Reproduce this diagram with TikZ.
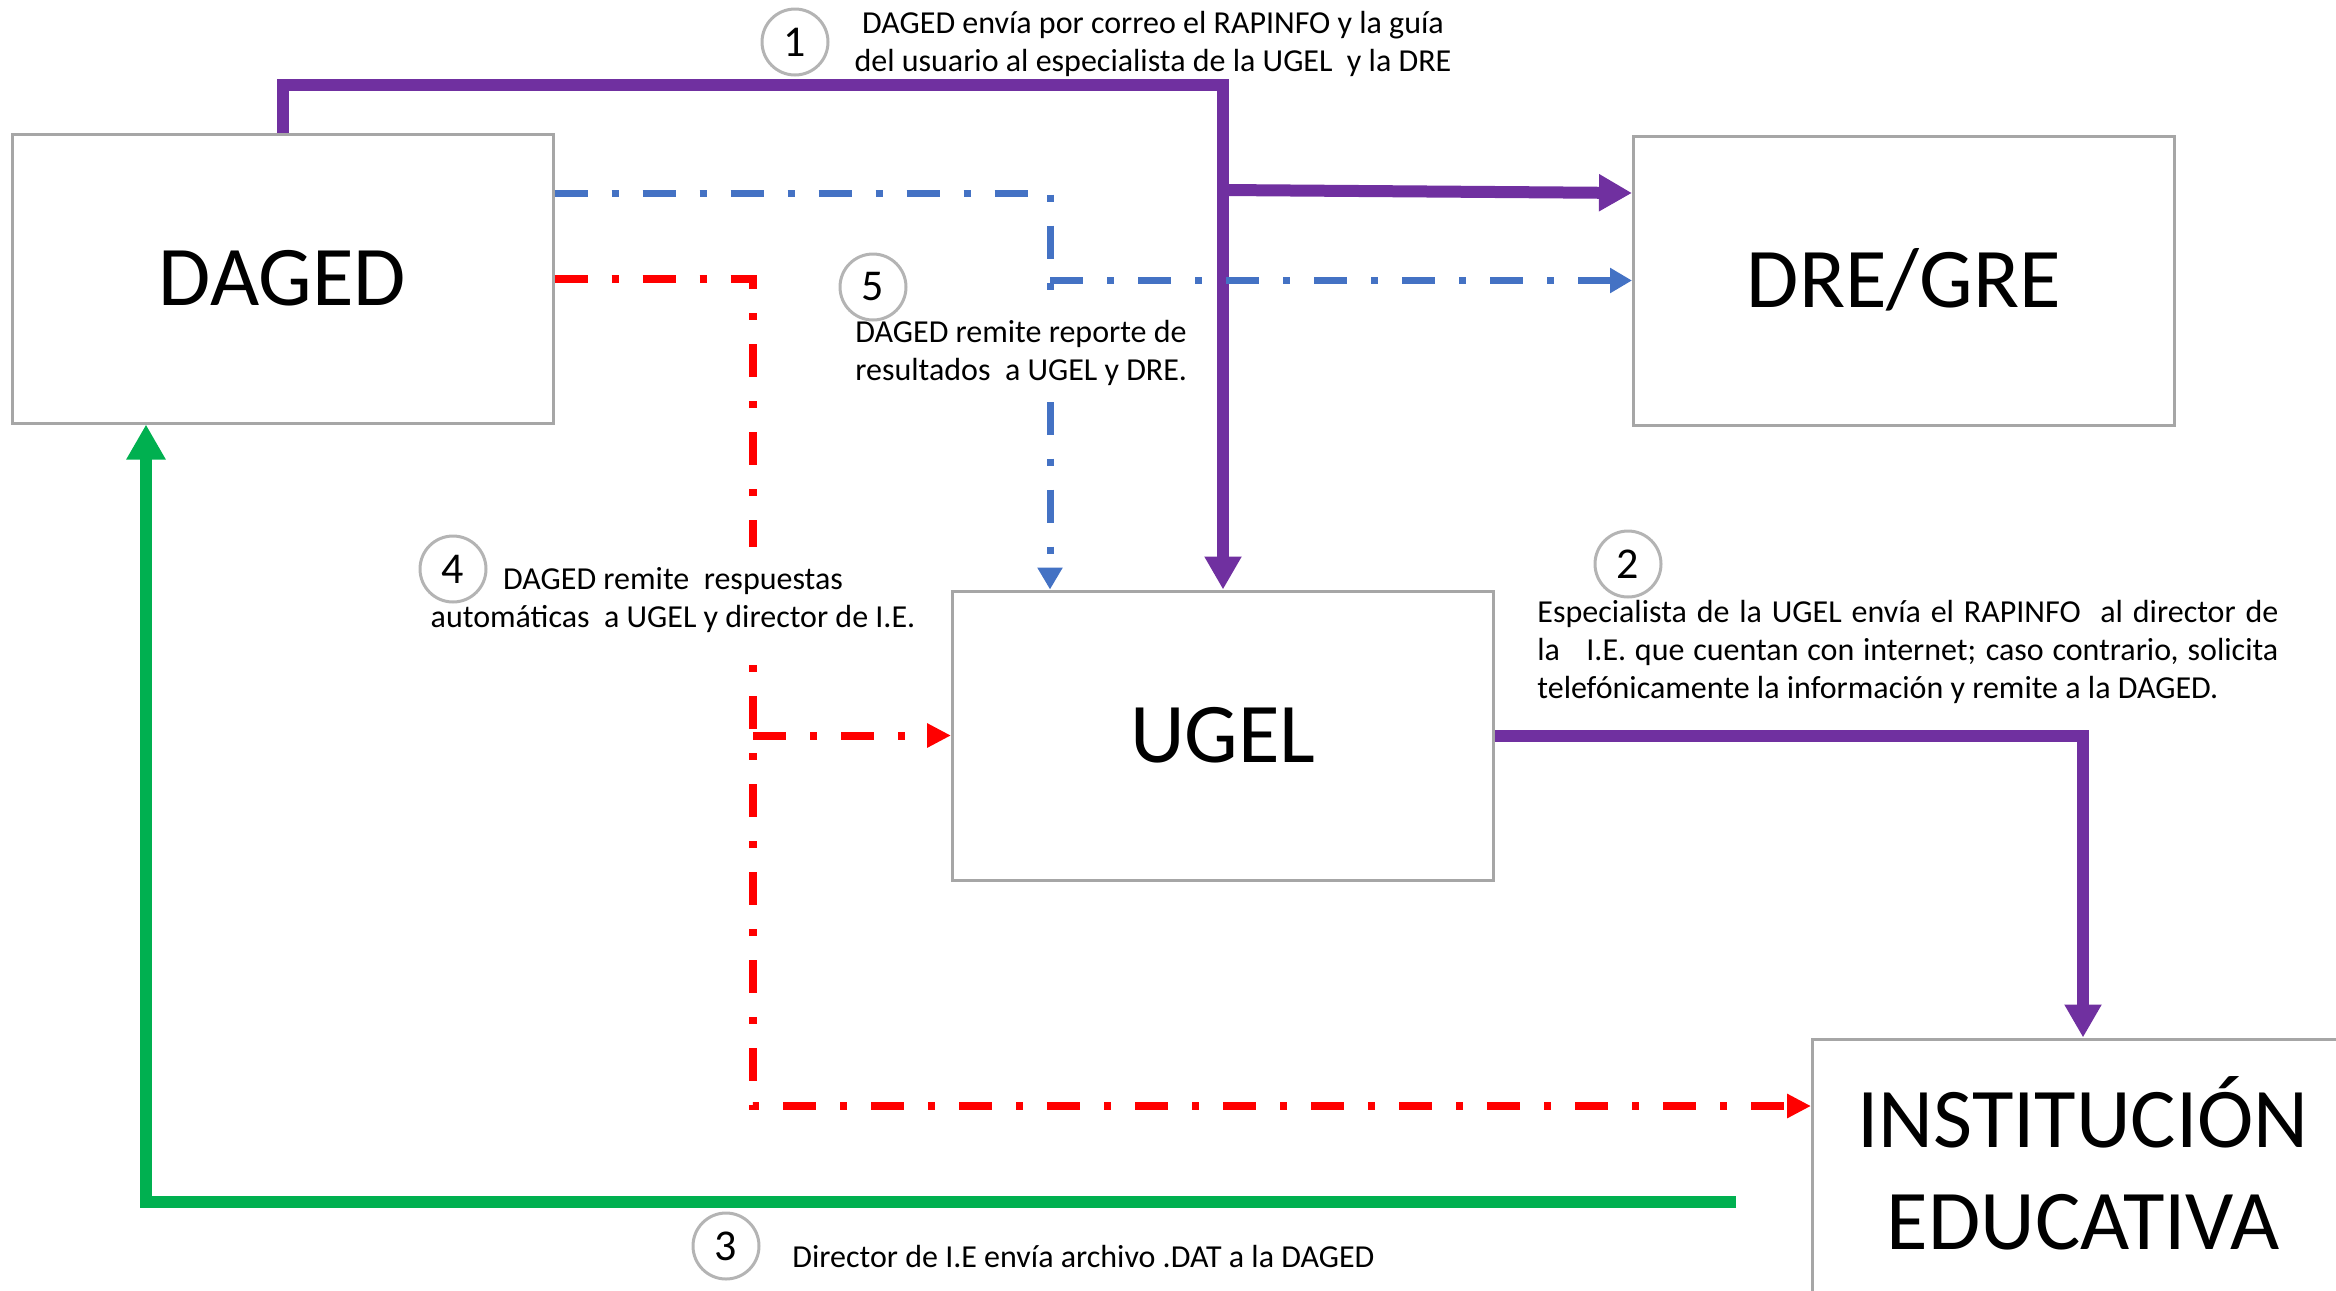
\documentclass[tikz,border=0pt]{standalone}
\usepackage{fontspec}
\setmainfont{Carlito}
\usetikzlibrary{arrows.meta}
\definecolor{cpurple}{HTML}{7030A0}
\definecolor{cgreen}{HTML}{00B050}
\definecolor{cred}{HTML}{FF0000}
\definecolor{cblue}{HTML}{4472C4}
\definecolor{cbox}{HTML}{A6A6A6}
\definecolor{ccirc}{HTML}{B4B4B4}
\begin{document}
\begin{tikzpicture}[x=0.5pt,y=-0.5pt,
  bigbox/.style={draw=cbox,line width=1.5pt,minimum width=270.5pt,minimum height=144.5pt,inner sep=0pt,
    font=\fontsize{42.5}{51}\selectfont,text height=27.4pt,text depth=0pt},
  bigtxt/.style={font=\fontsize{42.5}{51}\selectfont,inner sep=0pt,align=center},
  numcirc/.style={circle,draw=ccirc,line width=1.5pt,fill=white,minimum size=33pt,inner sep=0pt,
    font=\fontsize{22}{26}\selectfont},
  lbl/.style={font=\fontsize{16}{19}\selectfont,inner sep=0pt},
  dashdot/.style={dash pattern=on 16.5pt off 12pt on 3.5pt off 12pt},
  purp/.style={draw=cpurple,line width=6pt,-{Triangle[width=17.5pt,length=16.5pt]}},
  greenl/.style={draw=cgreen,line width=6pt,-{Triangle[width=18.5pt,length=17.5pt]}},
  redl/.style={draw=cred,line width=4pt,dashdot,-{Triangle[width=11.5pt,length=12pt]}},
  bluel/.style={draw=cblue,line width=3.5pt,dashdot,-{Triangle[width=12pt,length=11pt]}}
]
\useasboundingbox (0,0) rectangle (2336,1291);
% boxes
\node[bigbox] (daged) at (282.5,278.5) {DAGED};
\node[bigbox] (dre) at (1904,280.5) {DRE/GRE};
\node[bigbox] (ugel) at (1223,735.5) {UGEL};
\node[bigbox] (ie) at (2083,1183.5) {};
\node[bigtxt,anchor=north] (ietext) at (2083,1076) {INSTITUCIÓN\\EDUCATIVA};
% coordinates
\coordinate (top) at (1223,85);
\coordinate (pb) at (1223,190);
\coordinate (pe) at (0,193);
\coordinate (bxy) at (1050,193);
\coordinate (rc) at (753,1106);
\coordinate (g0) at (1736,1202);
\coordinate (gx) at (146,1202);
% connectors
\draw[purp] (daged.north) |- (top) -- (ugel.north);
\draw[purp] (pb) -- (dre.west |- pe);
\draw[purp] (ugel.east) -| (ie.north);
\draw[bluel] (daged.east |- bxy) -| (ugel.north -| bxy);
\draw[bluel] (bxy |- dre.west) -- (dre.west);
\draw[redl] (daged.east) -| (rc) -- (ie.west |- rc);
\draw[redl] (ugel.west -| rc) -- (ugel.west);
\draw[greenl] (g0) -| (daged.south -| gx);
% labels
\node[lbl,align=center,anchor=north] (t1) at (1153,10.6) {DAGED envía por correo el RAPINFO y la guía\\del usuario al especialista de la UGEL \ y la DRE};
\node[lbl,align=left,anchor=north west,fill=white,inner ysep=8pt] (t5) at (855,304) {DAGED remite reporte de\\resultados \ a UGEL y DRE.};
\node[lbl,align=center,anchor=north,fill=white,inner ysep=10pt] (t4) at (673,547) {DAGED remite \ respuestas\\automáticas \ a UGEL y director de I.E.};
\node[lbl,anchor=north west,text width=370.5pt,align=justify] (t2) at (1537,599.6) {Especialista de la UGEL envía el RAPINFO \ al director de\linebreak la \ \ I.E. que cuentan con internet; caso contrario, solicita\linebreak telefónicamente la información y remite a la DAGED.};
\node[lbl,anchor=base west] (t3) at (792,1267) {Director de I.E envía archivo .DAT a la DAGED};
% numbers
\node[numcirc] (n1) at (795,42) {1};
\node[numcirc] (n2) at (1628,564) {2};
\node[numcirc] (n3) at (726,1246) {3};
\node[numcirc] (n4) at (453,569) {4};
\node[numcirc] (n5) at (873,287) {5};
\end{tikzpicture}
\end{document}
